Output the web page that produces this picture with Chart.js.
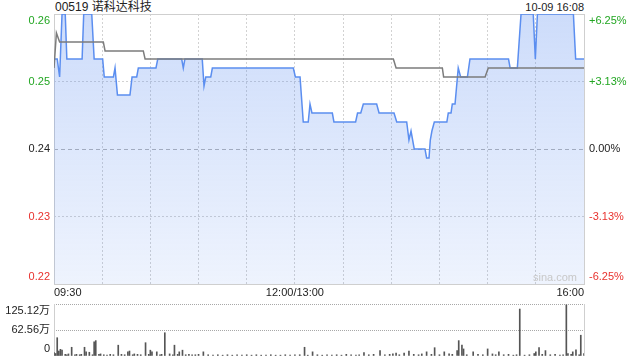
<!DOCTYPE html>
<html>
<head>
<meta charset="utf-8">
<script src="https://cdn.jsdelivr.net/npm/chart.js@4.4.1/dist/chart.umd.min.js"></script>
<style>
  html, body { margin: 0; padding: 0; background: #fff; }
  body { width: 640px; height: 360px; position: relative; overflow: hidden;
         font-family: "Liberation Sans", Arial, "Noto Sans CJK SC", sans-serif; color: #222; }
  #title { position: absolute; left: 55px; top: 0; font-size: 12px; line-height: 14px; }
  #stamp { position: absolute; right: 56px; top: 0; font-size: 11px; line-height: 14px; }
  #mark { position: absolute; left: 533px; top: 271px; font-size: 11px; color: #c8c8c8; }
  #price { position: absolute; left: 0; top: 0; }
  #vol { position: absolute; left: 0; top: 300px; }
</style>
</head>
<body>
<div id="title">00519 诺科达科技</div>
<div id="stamp">10-09 16:08</div>
<canvas id="price" width="640" height="300"></canvas>
<canvas id="vol" width="640" height="60"></canvas>
<div id="mark">sina.com</div>
<script>
// minutes since 09:30 (lunch break removed), 330 = 16:00
const priceMinutes = [0, 2, 3.5, 5, 7, 8, 17.5, 18.5, 23.5, 25, 30.3, 31.3, 37, 38, 39.5,
  47.3, 48.6, 51.5, 52.5, 63.5, 64.6, 79.5, 80.5, 81.5, 92.3, 93.4, 94.5, 97.6, 98.6,
  149, 150.3, 153.2, 155.2, 158.3, 159.4, 160.6, 173.3, 174.3, 187.8, 189, 191, 192.6,
  200.9, 202.4, 211.7, 213.4, 219.6, 221, 222.3, 224.3, 231, 232, 233.5, 234.3, 235.3, 236.8,
  244.6, 245.5, 247.2, 248, 249.7, 251.7, 253.2, 257.4, 259, 283, 284, 288.5, 290.8, 298.4,
  299.7, 301, 323.4, 324.8, 330];
const priceValues = [0.250, 0.250, 0.248, 0.255, 0.255, 0.250, 0.250, 0.255, 0.255, 0.250,
  0.250, 0.248, 0.248, 0.249, 0.246, 0.246, 0.248, 0.248, 0.249, 0.249, 0.250,
  0.250, 0.249, 0.250, 0.250, 0.247, 0.248, 0.248, 0.249,
  0.249, 0.248, 0.248, 0.243, 0.243, 0.245, 0.244, 0.244, 0.243, 0.243, 0.244, 0.244, 0.245,
  0.245, 0.244, 0.244, 0.243, 0.243, 0.241, 0.242, 0.240, 0.240, 0.239, 0.239, 0.241, 0.242, 0.243,
  0.243, 0.244, 0.244, 0.245, 0.245, 0.249, 0.248, 0.248, 0.250, 0.250, 0.249, 0.249, 0.255, 0.255,
  0.250, 0.255, 0.255, 0.250, 0.250];

const avgMinutes = [0, 1.5, 3.5, 30.7, 31.8, 55.6, 56.7, 211.3, 213, 241.8, 242.6, 268.4, 270.4, 330];
const avgValues = [0.249, 0.2529, 0.2519, 0.2519, 0.2509, 0.2509, 0.2500, 0.2500,
  0.2490, 0.2490, 0.2480, 0.2480, 0.2490, 0.2490];

// volume, in 万 shares
const volMinutes = [0, 1, 2, 3, 4, 5, 7, 8, 9, 11,
  13, 14, 16, 17, 19, 20, 22, 24, 25, 26,
  28, 29, 31, 33, 35, 37, 40, 42, 44, 46,
  47, 49, 50, 52, 54, 57, 59, 60, 61, 64,
  66, 67, 69, 72, 74, 75, 77, 78, 80, 82,
  84, 86, 88, 90, 93, 96, 99, 102, 105, 108,
  111, 114, 117, 120, 123, 126, 129, 132, 135, 138,
  141, 144, 147, 150, 153, 156, 158, 161, 164, 167,
  170, 173, 176, 179, 182, 185, 188, 190, 193, 196,
  199, 203, 206, 209, 211, 213, 215, 218, 221, 224,
  227, 229, 232, 235, 237, 240, 243, 246, 248, 251,
  252, 254, 255, 257, 261, 264, 267, 270, 273, 275,
  277, 280, 283, 286, 288, 290, 293, 296, 299, 300,
  302, 304, 306, 309, 312, 315, 317, 319, 320, 322,
  323, 325, 327, 328, 330];
const volValues = [8, 6, 44, 12, 16, 14, 4, 3, 5, 21,
  3, 4, 3, 4, 21, 10, 9, 3, 34, 37,
  4, 5, 3, 2, 4, 3, 26, 4, 3, 10,
  12, 3, 5, 4, 3, 32, 4, 14, 10, 10,
  3, 4, 56, 5, 3, 26, 4, 10, 14, 3,
  4, 3, 3, 4, 10, 3, 2, 3, 2, 3,
  2, 3, 2, 3, 2, 3, 2, 2, 3, 2,
  2, 3, 2, 3, 3, 21, 2, 10, 3, 2,
  3, 2, 3, 2, 4, 3, 2, 3, 8, 3,
  4, 13, 3, 4, 5, 7, 3, 7, 12, 4,
  3, 5, 10, 4, 20, 3, 10, 5, 4, 13,
  37, 26, 17, 3, 10, 4, 3, 17, 5, 3,
  10, 3, 4, 2, 3, 113, 2, 3, 6, 10,
  20, 4, 13, 3, 4, 2, 3, 123, 6, 4,
  10, 15, 3, 50, 6];

const prevClose = 0.24;
const priceTicks = [0.225, 0.2325, 0.24, 0.2475, 0.255];
const priceLabels = ['0.22', '0.23', '0.24', '0.25', '0.26'];
const pctLabels = ['-6.25%', '-3.13%', '0.00%', '+3.13%', '+6.25%'];
const timeTicks = [0, 30, 60, 90, 120, 150, 180, 210, 240, 270, 300, 330];
const timeLabels = { 0: '09:30', 150: '12:00/13:00', 330: '16:00' };
const volTicks = [0, 625600, 1251200];
const volLabels = ['0', '62.56万', '125.12万'];

const FONT = '"Liberation Sans", Arial, "Noto Sans CJK SC", sans-serif';
Chart.defaults.font.family = FONT;
Chart.defaults.font.size = 11;
Chart.defaults.color = '#333';

const GREEN = '#22a622';
const RED = '#e8322e';
function tickColor(ctx) {
  const i = ctx.index;
  return i > 2 ? GREEN : (i < 2 ? RED : '#222');
}
// push the top label down and the bottom label up, like the original
function edgeLabel(text, i, n) {
  if (i === n - 1) return ['', text];
  if (i === 0) return [text, ''];
  return text;
}
function noPad(s) { s.paddingTop = 0; s.paddingBottom = 0; }

const pricePlugin = {
  id: 'priceFrame',
  beforeDatasetsDraw(chart) {
    const { ctx, chartArea: a, scales } = chart;
    ctx.save();
    const y0 = Math.round(scales.y.getPixelForValue(prevClose)) + 0.5;
    ctx.strokeStyle = '#b3b3b3';
    ctx.lineWidth = 1;
    ctx.setLineDash([4, 3]);
    ctx.beginPath();
    ctx.moveTo(a.left, y0);
    ctx.lineTo(a.right, y0);
    ctx.stroke();
    ctx.setLineDash([]);
    ctx.strokeStyle = '#cfcfcf';
    ctx.strokeRect(a.left + 0.5, a.top + 0.5, a.width, a.height);
    ctx.restore();
  }
};

new Chart(document.getElementById('price'), {
  type: 'line',
  data: {
    datasets: [
      {
        data: avgMinutes.map((m, i) => ({ x: m, y: avgValues[i] })),
        borderColor: '#7c7c7c',
        borderWidth: 1.5,
        pointRadius: 0,
        fill: false,
        order: 0
      },
      {
        data: priceMinutes.map((m, i) => ({ x: m, y: priceValues[i] })),
        borderColor: '#5b8ef0',
        borderWidth: 1.5,
        pointRadius: 0,
        fill: 'start',
        order: 1,
        backgroundColor: (c) => {
          const a = c.chart.chartArea;
          if (!a) return 'rgba(90,140,240,0.2)';
          const g = c.chart.ctx.createLinearGradient(0, a.top, 0, a.bottom);
          g.addColorStop(0, 'rgba(90,140,240,0.30)');
          g.addColorStop(1, 'rgba(90,140,240,0.10)');
          return g;
        }
      }
    ]
  },
  options: {
    responsive: false,
    animation: false,
    layout: { padding: { top: 14, bottom: 0, left: 0, right: 0 } },
    plugins: { legend: { display: false }, tooltip: { enabled: false } },
    scales: {
      x: {
        type: 'linear',
        min: 0,
        max: 330,
        afterBuildTicks: (s) => { s.ticks = timeTicks.map(v => ({ value: v })); },
        afterFit: (s) => { s.height = 16; s.paddingLeft = 0; s.paddingRight = 0; },
        ticks: {
          autoSkip: false,
          maxRotation: 0,
          align: 'inner',
          padding: 2,
          color: '#222',
          callback: (v) => timeLabels[v] || ''
        },
        grid: {
          drawTicks: false,
          color: (c) => (c.index === 0 || c.index === timeTicks.length - 1) ? 'rgba(0,0,0,0)' : '#d2d2d2'
        },
        border: { display: false, dash: [2, 2] }
      },
      y: {
        position: 'left',
        min: 0.225,
        max: 0.255,
        afterBuildTicks: (s) => { s.ticks = priceTicks.map(v => ({ value: v })); },
        afterFit: (s) => { s.width = 54; noPad(s); },
        ticks: {
          autoSkip: false,
          padding: 4,
          color: tickColor,
          callback: (v, i) => edgeLabel(priceLabels[i], i, priceLabels.length)
        },
        grid: {
          drawTicks: false,
          color: (c) => (c.index === 1 || c.index === 3) ? '#d2d2d2' : 'rgba(0,0,0,0)'
        },
        border: { display: false, dash: [2, 2] }
      },
      y2: {
        position: 'right',
        min: 0.225,
        max: 0.255,
        afterBuildTicks: (s) => { s.ticks = priceTicks.map(v => ({ value: v })); },
        afterFit: (s) => { s.width = 56; noPad(s); },
        ticks: {
          autoSkip: false,
          padding: 5,
          color: tickColor,
          callback: (v, i) => edgeLabel(pctLabels[i], i, pctLabels.length)
        },
        grid: { display: false, drawTicks: false },
        border: { display: false }
      }
    }
  },
  plugins: [pricePlugin]
});

const volPlugin = {
  id: 'volFrame',
  beforeDatasetsDraw(chart) {
    const { ctx, chartArea: a } = chart;
    ctx.save();
    ctx.strokeStyle = '#cfcfcf';
    ctx.lineWidth = 1;
    ctx.beginPath();
    ctx.moveTo(a.left + 0.5, a.top);
    ctx.lineTo(a.left + 0.5, a.bottom);
    ctx.moveTo(a.right + 0.5, a.top);
    ctx.lineTo(a.right + 0.5, a.bottom);
    ctx.stroke();
    ctx.restore();
  }
};

new Chart(document.getElementById('vol'), {
  type: 'bar',
  data: {
    datasets: [{
      data: volMinutes.map((m, i) => ({ x: m, y: volValues[i] * 10000 })),
      backgroundColor: '#555',
      borderWidth: 0,
      barThickness: 1,
      grouped: false
    }]
  },
  options: {
    responsive: false,
    animation: false,
    layout: { padding: { top: 4, bottom: 4, left: 0, right: 56 } },
    plugins: { legend: { display: false }, tooltip: { enabled: false } },
    scales: {
      x: { type: 'linear', min: 0, max: 330, display: false, offset: false },
      y: {
        position: 'left',
        min: 0,
        max: 1251200,
        afterBuildTicks: (s) => { s.ticks = volTicks.map(v => ({ value: v })); },
        afterFit: (s) => { s.width = 54; noPad(s); },
        ticks: {
          autoSkip: false,
          padding: 4,
          color: '#222',
          callback: (v, i) => edgeLabel(volLabels[i], i, volLabels.length)
        },
        grid: {
          drawTicks: false,
          color: (c) => c.index === 0 ? 'rgba(0,0,0,0)' : '#a8a8a8'
        },
        border: { display: false, dash: [1, 1] }
      }
    }
  },
  plugins: [volPlugin]
});
</script>
</body>
</html>
